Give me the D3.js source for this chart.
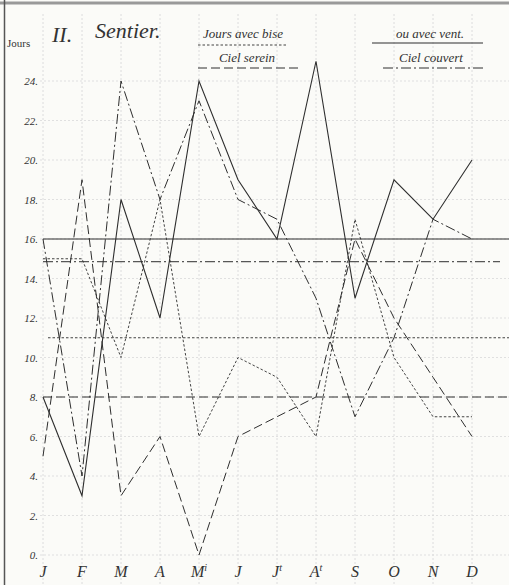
<!DOCTYPE html>
<html><head><meta charset="utf-8">
<script src="https://cdn.jsdelivr.net/npm/d3@7"></script>
<style>
html,body{margin:0;padding:0;background:#fbfbf8;}
svg{display:block;}
text{font-family:"Liberation Serif","DejaVu Serif",serif;fill:#333;}
</style></head>
<body>
<script>
const monthBase = ["J","F","M","A","M","J","J","A","S","O","N","D"];
const monthSup  = ["","","","","i","","t","t","","","",""];
const yTicks = [0,2,4,6,8,10,12,14,16,18,20,22,24];
const bise    = [15,15,10,18,6,10,9,6,17,10,7,7];
const vent    = [8,3,18,12,24,19,16,25,13,19,17,20];
const serein  = [5,19,3,6,0,6,7,8,16,12,9,6];
const couvert = [16,4,24,18,23,18,17,13,7,11,17,16];
const avgBise = 11, avgVent = 16, avgSerein = 8, avgCouvert = 14.85;

const W = 509, H = 585;
const svg = d3.select("body").append("svg").attr("width", W).attr("height", H);
const ink = "#2e2e2e";

const x = d3.scalePoint().domain(d3.range(12)).range([43, 472]);
const y = d3.scaleLinear().domain([0, 24]).range([555, 81]);

// grid
const g = svg.append("g");
g.selectAll("line.v").data(d3.range(12)).join("line")
  .attr("x1", d => x(d)).attr("x2", d => x(d)).attr("y1", 14).attr("y2", H)
  .attr("stroke", "#d6d6d6").attr("stroke-width", 0.8).attr("stroke-dasharray", "2,2");
g.selectAll("line.h").data(yTicks).join("line")
  .attr("x1", 40).attr("x2", W).attr("y1", d => y(d)).attr("y2", d => y(d))
  .attr("stroke", "#d9d9d9").attr("stroke-width", 0.8).attr("stroke-dasharray", "2,2");

// border
svg.append("line").attr("x1",0).attr("x2",W).attr("y1",3).attr("y2",3).attr("stroke","#999").attr("stroke-width",3);
svg.append("line").attr("x1",4.5).attr("x2",4.5).attr("y1",0).attr("y2",H).attr("stroke","#555").attr("stroke-width",1.5);

// y axis labels
const yAxis = d3.axisLeft(y).tickValues(yTicks).tickSize(0).tickFormat(d => d + ".");
const ya = svg.append("g").attr("transform", "translate(41,0)").call(yAxis);
ya.select(".domain").remove();
ya.selectAll("text").attr("font-size", 11).attr("font-style", "italic").attr("fill", "#444")
  .attr("font-family", "'Liberation Serif',serif").attr("dx", 0);

// x labels
const xl = svg.append("g").selectAll("text").data(d3.range(12)).join("text")
  .attr("x", d => x(d)).attr("y", 577).attr("text-anchor", "middle")
  .attr("font-size", 16).attr("font-style", "italic").attr("fill", "#333");
xl.append("tspan").text(d => monthBase[d]);
xl.append("tspan").attr("font-size", 10).attr("dy", -6).text(d => monthSup[d]);

// styles
const styles = {
  bise:    {dash: "2.5,2", w: 0.9},
  vent:    {dash: null, w: 1.1},
  serein:  {dash: "9,4", w: 1},
  couvert: {dash: "10,3,2,3", w: 1}
};

// average horizontal lines
const avgs = [
  {v: avgVent, s: styles.vent, x1: 43, x2: W},
  {v: avgCouvert, s: styles.couvert, x1: 43, x2: 500},
  {v: avgBise, s: styles.bise, x1: 48, x2: W},
  {v: avgSerein, s: styles.serein, x1: 43, x2: W}
];
svg.append("g").selectAll("line").data(avgs).join("line")
  .attr("x1", d => d.x1).attr("x2", d => d.x2).attr("y1", d => y(d.v)).attr("y2", d => y(d.v))
  .attr("stroke", ink).attr("stroke-width", d => d.s.w).attr("stroke-dasharray", d => d.s.dash);

// series
const line = d3.line().x((d, i) => x(i)).y(d => y(d));
const series = [
  {vals: bise, s: styles.bise},
  {vals: serein, s: styles.serein},
  {vals: couvert, s: styles.couvert},
  {vals: vent, s: styles.vent}
];
svg.append("g").selectAll("path").data(series).join("path")
  .attr("d", d => line(d.vals)).attr("fill", "none").attr("stroke", ink)
  .attr("stroke-width", d => d.s.w).attr("stroke-dasharray", d => d.s.dash)
  .attr("stroke-linejoin", "miter");

// title & header
svg.append("text").attr("x", 7).attr("y", 47).attr("font-size", 11).attr("fill", "#444").text("Jours");
svg.append("text").attr("x", 52).attr("y", 42).attr("font-size", 22).attr("font-style", "italic").text("II.");
svg.append("text").attr("x", 95).attr("y", 38).attr("font-size", 22).attr("font-style", "italic").text("Sentier.");

// legend
const legend = [
  {t: "Jours avec bise", x: 243, y: 38, u: 45, ux1: 198, ux2: 287, s: styles.bise},
  {t: "ou avec vent.", x: 430, y: 38, u: 43, ux1: 372, ux2: 483, s: styles.vent},
  {t: "Ciel serein", x: 247, y: 62, u: 68, ux1: 198, ux2: 298, s: styles.serein},
  {t: "Ciel couvert", x: 431, y: 62, u: 68, ux1: 383, ux2: 483, s: styles.couvert}
];
const lg = svg.append("g").selectAll("g").data(legend).join("g");
lg.append("text").attr("x", d => d.x).attr("y", d => d.y).attr("text-anchor", "middle")
  .attr("font-size", 13).attr("font-style", "italic").attr("fill", "#444").text(d => d.t);
lg.append("line").attr("x1", d => d.ux1).attr("x2", d => d.ux2).attr("y1", d => d.u).attr("y2", d => d.u)
  .attr("stroke", ink).attr("stroke-width", d => d.s.w).attr("stroke-dasharray", d => d.s.dash);
</script>
</body></html>
